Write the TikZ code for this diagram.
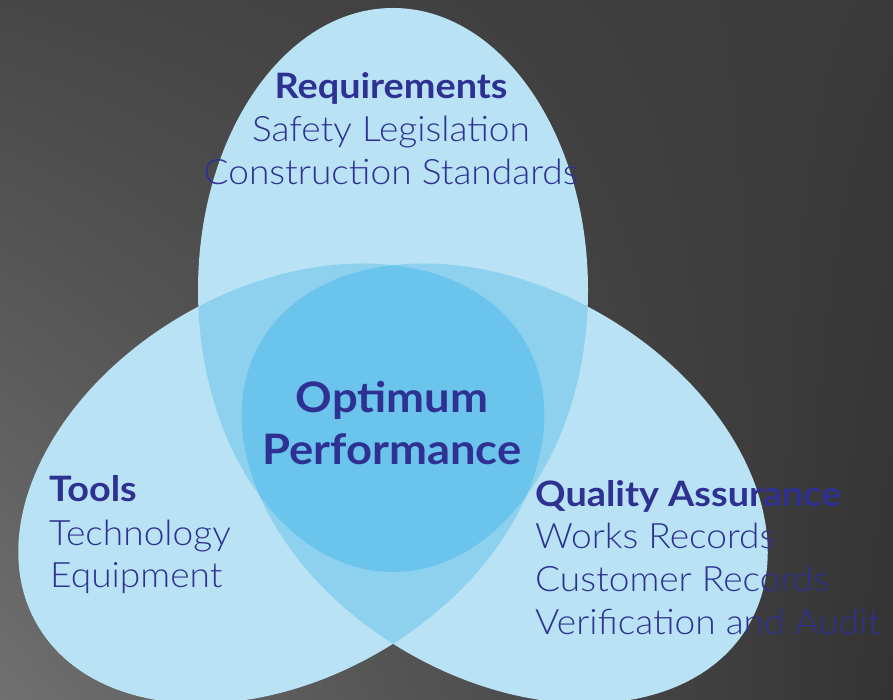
\documentclass[tikz,border=0pt]{standalone}
\usepackage{fontspec}
\usetikzlibrary{shadings}
\setmainfont{Lato}
\newfontfamily\itemfont[FakeStretch=1.06]{Lato Light}
\newfontfamily\headfont[FakeStretch=1.08]{Lato}
\definecolor{lightb}{HTML}{B9E3F4}
\definecolor{midb}{HTML}{8DD1EF}
\definecolor{darkb}{HTML}{6BC4EB}
\definecolor{txtb}{HTML}{2E3192}
\definecolor{bgul}{HTML}{474747}
\definecolor{bgur}{HTML}{3A3A3A}
\definecolor{bgll}{HTML}{707070}
\definecolor{bglr}{HTML}{333333}
\def\egg{(393,410) ellipse [x radius=195, y radius=282]}
\tikzset{
  eggL/.style={rotate around={120:(393,281)}},
  eggR/.style={rotate around={-120:(393,281)}},
  head/.style={inner sep=0pt, text=txtb, font=\headfont\fontsize{35}{40}\selectfont\bfseries},
  item/.style={inner sep=0pt, text=txtb, font=\itemfont\fontsize{35}{40}\selectfont},
  big/.style={inner sep=0pt, text=txtb, font=\headfont\fontsize{42}{48}\selectfont\bfseries},
}
\begin{document}
\begin{tikzpicture}[x=1pt,y=1pt]
\useasboundingbox (0,0) rectangle (893,700);
\shade[upper left=bgul, upper right=bgur, lower left=bgll, lower right=bglr] (0,0) rectangle (893,700);
% single ellipses
\fill[lightb] \egg;
\fill[lightb, eggL] \egg;
\fill[lightb, eggR] \egg;
% pairwise overlaps
\begin{scope}
  \clip \egg;
  \fill[midb, eggL] \egg;
  \fill[midb, eggR] \egg;
\end{scope}
\begin{scope}
  \clip[eggL] \egg;
  \fill[midb, eggR] \egg;
\end{scope}
% triple overlap
\begin{scope}
  \clip \egg;
  \clip[eggL] \egg;
  \fill[darkb, eggR] \egg;
\end{scope}
% texts
\node[head, anchor=base] (req) at (391,601) {Requirements};
\node[item, anchor=base] (req1) at (391,558) {Safety Legislation};
\node[item, anchor=base] (req2) at (391,515) {Construction Standards};
\node[big, anchor=base] (opt1) at (392,287) {Optimum};
\node[big, anchor=base] (opt2) at (392,235) {Performance};
\node[head, anchor=base west] (tools) at (49,198) {Tools};
\node[item, anchor=base west] (tools1) at (49,154) {Technology};
\node[item, anchor=base west] (tools2) at (50,112) {Equipment};
\node[head, anchor=base west] (qa) at (535,193) {Quality Assurance};
\node[item, anchor=base west] (qa1) at (535,151) {Works Records};
\node[item, anchor=base west] (qa2) at (535,108) {Customer Records};
\node[item, anchor=base west] (qa3) at (535,65) {Verification and Audit};
\end{tikzpicture}
\end{document}
